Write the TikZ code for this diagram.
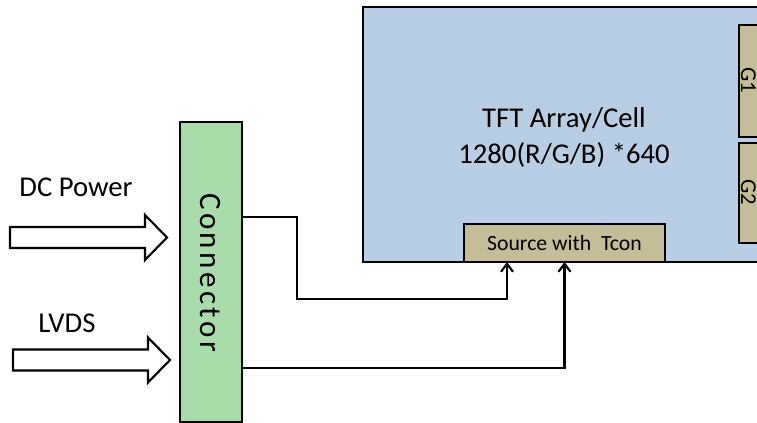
\documentclass[tikz,border=0pt]{standalone}
\usepackage{fontspec}
\setmainfont{Carlito}
\newfontfamily\connfont[LetterSpace=11]{Carlito}
\usetikzlibrary{arrows.meta}
\definecolor{cellblue}{RGB}{185,205,229}
\definecolor{tanbox}{RGB}{196,189,151}
\definecolor{conngreen}{RGB}{168,220,170}

\begin{document}
\begin{tikzpicture}[x=0.75pt,y=-0.75pt,line join=miter,
  box/.style={draw,inner sep=0pt,outer sep=0pt},
  lbl/.style={font=\fontsize{21.5}{27}\selectfont},
  sig/.style={line width=1.7pt,-{Straight Barb[length=6pt,width=9pt,line width=1.6pt]}},
  blockarrow/.style={draw,line width=1.6pt,fill=white}]
  \useasboundingbox (0,0) rectangle (757,423);
  \clip (0,0) rectangle (757,423);
  \node[box,fill=cellblue,line width=2.2pt,minimum width=327.75pt,minimum height=191.25pt] (cell) at (581.5,134.5) {};
  \node[box,fill=tanbox,line width=1.1pt,minimum width=30.75pt,minimum height=84pt] (gone) at (759.5,81) {};
  \node[box,fill=tanbox,line width=1.1pt,minimum width=30.75pt,minimum height=75pt] (gtwo) at (759.5,193) {};
  \node[rotate=-90,font=\fontsize{17}{20}\selectfont] (gonetext) at (748.5,80) {G1};
  \node[rotate=-90,font=\fontsize{17}{20}\selectfont] (gtwotext) at (748.5,192) {G2};
  \node[lbl,align=center] (celltext) at (564,138) {TFT Array/Cell\\1280(R/G/B) *640};
  \node[box,fill=tanbox,line width=1.1pt,minimum width=150.75pt,minimum height=28.5pt,
    font=\fontsize{16.3}{20}\selectfont] (src) at (564.5,243) {Source with\ \ Tcon};
  \node[box,fill=conngreen,line width=1.5pt,minimum width=46.5pt,minimum height=225pt] (conn) at (211,272) {};
  \node[rotate=-90,font=\connfont\fontsize{23.3}{28}\selectfont] (conntext) at (210,272.5) {Connector};
  \draw[sig] (conn.east |- 0,217) -- (297,217) |- (507,299) -- (src.south -| 507,0);
  \draw[sig] (conn.east |- 0,368) -| (src.south);
  \foreach \ax/\ay in {10/237,13/359.5}
    \draw[blockarrow] (\ax,\ay-10) -- ++(135,0) -- ++(0,-12) -- ++(22,22.5)
      -- ++(-22,22.5) -- ++(0,-12) -- ++(-135,0) -- cycle;
  \node[lbl,anchor=base] (dctext) at (76,197) {DC Power};
  \node[lbl,anchor=base] (lvdstext) at (67,333) {LVDS};
\end{tikzpicture}
\end{document}
